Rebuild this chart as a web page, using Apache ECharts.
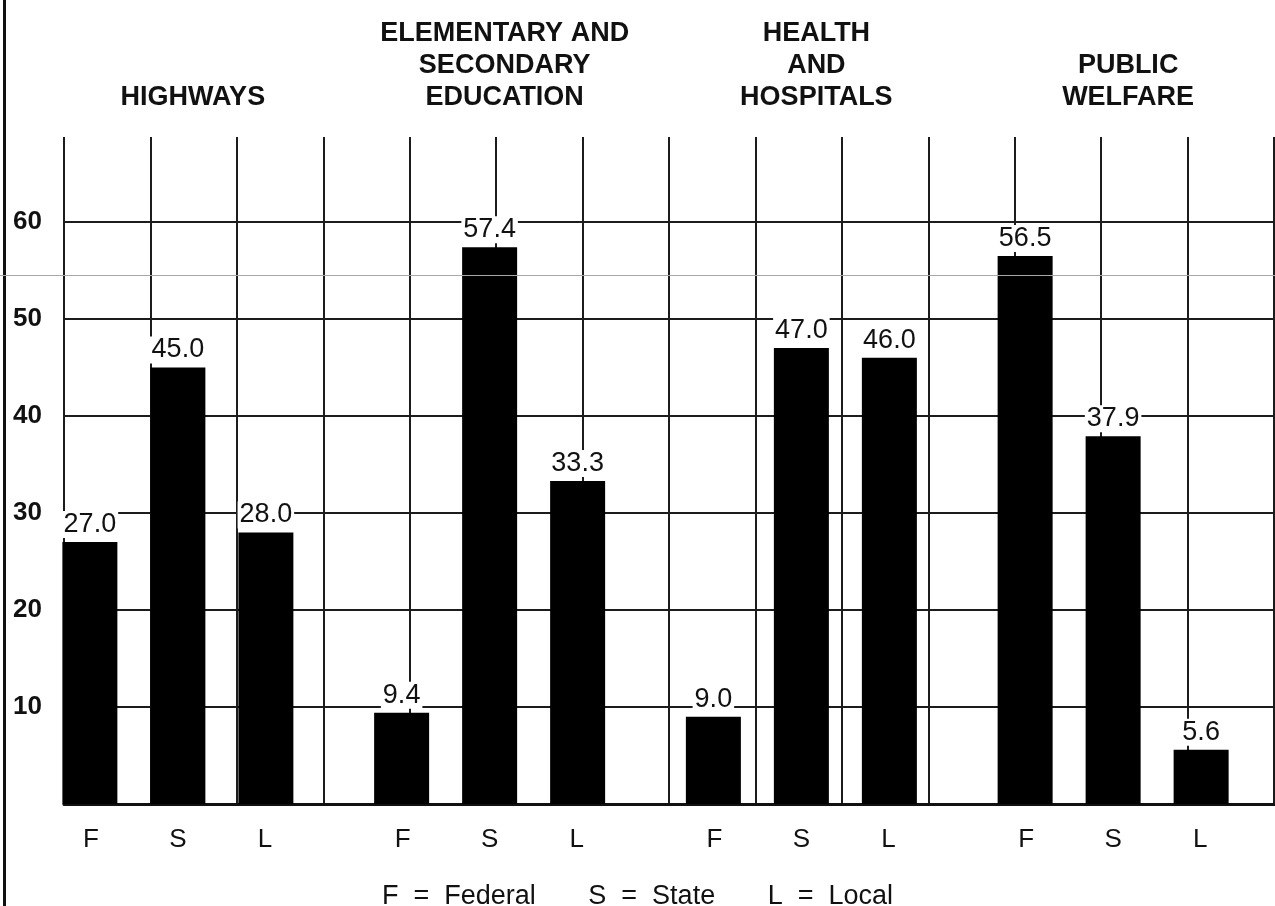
<!DOCTYPE html>
<html>
<head>
<meta charset="utf-8">
<title>Expenditure shares by level of government</title>
<script src="https://cdn.jsdelivr.net/npm/echarts@6/dist/echarts.min.js"></script>
<style>
  html, body { margin: 0; padding: 0; background: #fff; }
  #chart { width: 1275px; height: 906px; }
</style>
</head>
<body>
<div id="chart"></div>
<script>
// Function groups (drawn as titles above the plot)
const groups = [
  'HIGHWAYS',
  'ELEMENTARY AND\nSECONDARY\nEDUCATION',
  'HEALTH\nAND\nHOSPITALS',
  'PUBLIC\nWELFARE'
];
// Level-of-government codes and their names
const tiers = ['F', 'S', 'L'];
const tierNames = ['Federal', 'State', 'Local'];

// Percent of spending per group, one array per level of government
const federal = [27.0, 9.4, 9.0, 56.5];
const state   = [45.0, 57.4, 47.0, 37.9];
const local   = [28.0, 33.3, 46.0, 5.6];

// Value axis
const yMin = 0, yMax = 60, yStep = 10;

const FONT = '"Liberation Sans", Arial, Helvetica, sans-serif';
const INK = '#111';
const RULE = '#1c1c1c';

const chart = echarts.init(document.getElementById('chart'), null, { renderer: 'canvas' });

const barLabel = {
  show: true,
  position: 'top',
  distance: 4,
  fontFamily: FONT,
  fontSize: 27,
  color: INK,
  backgroundColor: '#fff',
  padding: [0, 2, 0, 2],
  formatter: p => p.value.toFixed(1)
};

const seriesData = [federal, state, local];

const option = {
  backgroundColor: '#fff',
  animation: false,
  textStyle: { fontFamily: FONT },
  title: {
    text: tiers.map((t, i) => t + '  =  ' + tierNames[i]).join('       '),
    left: 'center',
    top: 878,
    textStyle: { fontFamily: FONT, fontSize: 27, fontWeight: 'normal', color: INK }
  },
  grid: [
    // vertical rules
    { left: 64, right: 1, top: 137, bottom: 102 },
    // horizontal rules and value labels
    { left: 64, right: 0, top: 222, bottom: 102 },
    // bars
    { left: 22, right: 6, top: 222, bottom: 102 }
  ],
  xAxis: [
    {
      gridIndex: 0, type: 'value', min: 0, max: 14, interval: 1,
      axisLine: { show: false }, axisTick: { show: false }, axisLabel: { show: false },
      splitLine: { show: true, lineStyle: { color: RULE, width: 2 } }
    },
    {
      gridIndex: 1, type: 'value', min: 0, max: 1,
      axisLine: { show: true, lineStyle: { color: INK, width: 3 } },
      axisTick: { show: false }, axisLabel: { show: false }, splitLine: { show: false }
    },
    {
      gridIndex: 2, type: 'category', position: 'bottom', data: groups,
      axisLine: { show: false }, axisTick: { show: false }, splitLine: { show: false },
      axisLabel: {
        interval: 0,
        margin: 22,
        formatter: () => tiers.map(t => '{c|' + t + '}').join(''),
        rich: {
          c: { width: 87, align: 'center', fontFamily: FONT, fontSize: 26, color: INK, lineHeight: 28 }
        }
      }
    },
    {
      gridIndex: 2, type: 'category', position: 'top', data: groups,
      axisLine: { show: false }, axisTick: { show: false }, splitLine: { show: false },
      axisLabel: {
        interval: 0,
        margin: 108,
        fontFamily: FONT,
        fontSize: 27,
        fontWeight: 'bold',
        lineHeight: 32,
        color: INK,
        align: 'center',
        padding: [0, 0, 0, 30]
      }
    }
  ],
  yAxis: [
    { gridIndex: 0, type: 'value', min: 0, max: 1, show: false },
    {
      gridIndex: 1, type: 'value', min: yMin, max: yMax, interval: yStep,
      axisLine: { show: false }, axisTick: { show: false },
      axisLabel: {
        align: 'left', margin: 51,
        fontFamily: FONT, fontSize: 26, fontWeight: 'bold', color: INK,
        formatter: v => (v === 0 ? '' : String(v))
      },
      splitLine: { show: true, lineStyle: { color: RULE, width: 2 } }
    },
    { gridIndex: 2, type: 'value', min: yMin, max: yMax, show: false }
  ],
  series: seriesData.map((values, i) => ({
    name: tierNames[i],
    type: 'bar',
    xAxisIndex: 2,
    yAxisIndex: 2,
    data: values,
    barWidth: 55,
    barGap: '60%',
    itemStyle: { color: '#000' },
    label: barLabel,
    z: 3
  })),
  graphic: [
    // page edge rule on the left
    { type: 'rect', left: 3, top: 0, shape: { width: 3, height: 906 }, style: { fill: INK }, z: 10 },
    // faint crease line across the sheet
    { type: 'rect', left: 0, top: 275, shape: { width: 1275, height: 1 }, style: { fill: '#a8a8a8' }, z: 10 }
  ]
};

chart.setOption(option);
</script>
</body>
</html>
